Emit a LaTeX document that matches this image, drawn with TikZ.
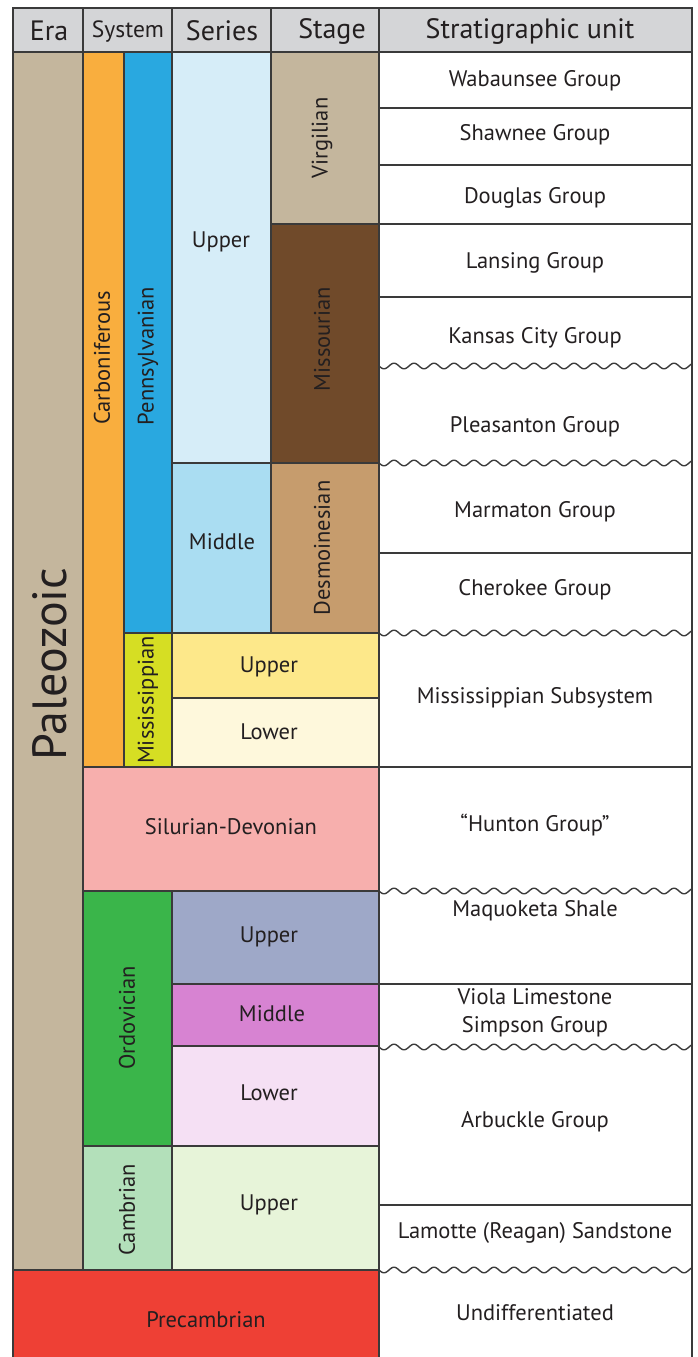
\documentclass[tikz,border=0pt]{standalone}
\usepackage{fontspec}
\setmainfont{PT Sans}
\definecolor{linec}{HTML}{3A3A3A}
\definecolor{txtc}{HTML}{231F20}
\definecolor{hdr}{HTML}{D4D5D7}
\definecolor{paleo}{HTML}{C4B69D}
\definecolor{carb}{HTML}{F9AE3E}
\definecolor{penn}{HTML}{29A8E0}
\definecolor{pennU}{HTML}{D6EDF8}
\definecolor{pennM}{HTML}{AADDF2}
\definecolor{virg}{HTML}{C4B69D}
\definecolor{miss}{HTML}{704A2A}
\definecolor{desm}{HTML}{C69C6D}
\definecolor{mssp}{HTML}{D6DE23}
\definecolor{msspU}{HTML}{FDE88A}
\definecolor{msspL}{HTML}{FEF8DC}
\definecolor{sildev}{HTML}{F7AFAD}
\definecolor{ordo}{HTML}{3AB54A}
\definecolor{ordU}{HTML}{9EA8C8}
\definecolor{ordM}{HTML}{D783D2}
\definecolor{ordL}{HTML}{F5E0F4}
\definecolor{camb}{HTML}{B3E0BA}
\definecolor{cambU}{HTML}{E7F4D9}
\definecolor{precamb}{HTML}{EE4035}
\begin{document}
\begin{tikzpicture}[x=1pt,y=-1pt,
  cell/.style={draw=linec, line width=1.8pt},
  thin/.style={draw=linec, line width=1.4pt},
  lab/.style={text=txtc, font=\fontsize{22.5}{26}\selectfont, inner sep=0pt},
  vlab/.style={lab, rotate=90},
  hlab/.style={text=txtc, font=\fontsize{28}{32}\selectfont, inner sep=0pt}]
\useasboundingbox (0,0) rectangle (698,1357);
% header
\draw[cell, fill=hdr] (13,8) rectangle (692,52);
\draw[cell] (83,8) -- (83,52) (172,8) -- (172,52) (271,8) -- (271,52) (379,8) -- (379,52);
\node[hlab] (hEra) at (49,31) {Era};
\node[hlab, font=\fontsize{23.5}{26}\selectfont] (hSys) at (128,32) {System};
\node[hlab] (hSer) at (222,31) {Series};
\node[hlab] (hSta) at (332,31) {Stage};
\node[hlab] (hStr) at (530,31) {Stratigraphic unit};
% strat column frame
\draw[cell] (379,52) -- (692,52) -- (692,1357);
\foreach \yy in {108,165,224,297,553,767,984,1205}
  \draw[thin] (379,\yy) -- (692,\yy);
\foreach \yy in {366,463,633,891,1047,1270}
  \draw[thin] plot[domain=379:692, samples=220] (\x, {\yy + 2.8*sin(18*(\x-379))});
% era etc
\draw[cell, fill=paleo] (13,52) rectangle (83,1270);
\draw[cell, fill=carb] (83,52) rectangle (124,767);
\draw[cell, fill=penn] (124,52) rectangle (172,633);
\draw[cell, fill=mssp] (124,633) rectangle (172,767);
\draw[cell, fill=pennU] (172,52) rectangle (271,463);
\draw[cell, fill=pennM] (172,463) rectangle (271,633);
\draw[cell, fill=virg] (271,52) rectangle (379,224);
\draw[cell, fill=miss] (271,224) rectangle (379,463);
\draw[cell, fill=desm] (271,463) rectangle (379,633);
\draw[cell, fill=msspU] (172,633) rectangle (379,698);
\draw[cell, fill=msspL] (172,698) rectangle (379,767);
\draw[cell, fill=sildev] (83,767) rectangle (379,891);
\draw[cell, fill=ordo] (83,891) rectangle (172,1146);
\draw[cell, fill=ordU] (172,891) rectangle (379,984);
\draw[cell, fill=ordM] (172,984) rectangle (379,1046);
\draw[cell, fill=ordL] (172,1046) rectangle (379,1146);
\draw[cell, fill=camb] (83,1146) rectangle (172,1270);
\draw[cell, fill=cambU] (172,1146) rectangle (379,1270);
\draw[cell, fill=precamb] (13,1357) -- (13,1270) -- (379,1270) -- (379,1357);
% labels left
\node[vlab, font=\fontsize{48}{52}\selectfont] (paleoz) at (50,664) {Paleozoic};
\node[vlab] (carbL) at (102,358) {Carboniferous};
\node[vlab] (pennL) at (148,356) {Pennsylvanian};
\node[vlab] (msspL) at (148,700) {Mississippian};
\node[vlab] (ordoL) at (127,1018) {Ordovician};
\node[vlab] (cambL) at (127,1210) {Cambrian};
\node[vlab] (virgL) at (322,138) {Virgilian};
\node[vlab] (missL) at (322,339) {Missourian};
\node[vlab] (desmL) at (322,548) {Desmoinesian};
\node[lab] (pennUL) at (221,242) {Upper};
\node[lab] (pennML) at (222,542) {Middle};
\node[lab] (msspUL) at (269,667) {Upper};
\node[lab] (msspLL) at (269,732) {Lower};
\node[lab] (sildevL) at (231,827) {Silurian-Devonian};
\node[lab] (ordUL) at (269,937) {Upper};
\node[lab] (ordML) at (272,1014) {Middle};
\node[lab] (ordLL) at (269,1093) {Lower};
\node[lab] (cambUL) at (269,1205) {Upper};
\node[lab] (precambL) at (206,1320) {Precambrian};
% strat units
\node[lab] (s1) at (535,81) {Wabaunsee Group};
\node[lab] (s2) at (535,135) {Shawnee Group};
\node[lab] (s3) at (535,198) {Douglas Group};
\node[lab] (s4) at (535,263) {Lansing Group};
\node[lab] (s5) at (535,338) {Kansas City Group};
\node[lab] (s6) at (535,427) {Pleasanton Group};
\node[lab] (s7) at (535,512) {Marmaton Group};
\node[lab] (s8) at (535,590) {Cherokee Group};
\node[lab] (s9) at (535,698) {Mississippian Subsystem};
\node[lab] (s10) at (535,825) {“Hunton Group”};
\node[lab] (s11) at (535,911) {Maquoketa Shale};
\node[lab, align=center, font=\fontsize{22.5}{28}\selectfont] (s12) at (535,1013) {Viola Limestone\\Simpson Group};
\node[lab] (s13) at (535,1122) {Arbuckle Group};
\node[lab] (s14) at (535,1233) {Lamotte (Reagan) Sandstone};
\node[lab] (s15) at (535,1313) {Undifferentiated};
\end{tikzpicture}
\end{document}
